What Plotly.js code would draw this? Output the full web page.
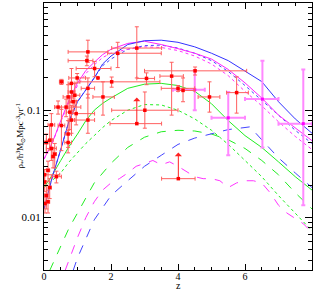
<!DOCTYPE html>
<html><head><meta charset="utf-8">
<script src="https://cdn.plot.ly/plotly-3.0.1.min.js"></script>
<style>html,body{margin:0;padding:0;background:#fff}#c{width:314px;height:291px}</style>
</head><body><div id="c"></div>
<script>
// model curves (z grid and values)
const zGrid = [0,0.25,0.5,0.75,1,1.25,1.5,1.75,2,2.5,3,3.5,4,4.5,5,5.5,6,6.5,7,7.5,8];
const blueSolid   = [0.012,0.024,0.043,0.08,0.12,0.155,0.2,0.27,0.32,0.41,0.445,0.45,0.43,0.39,0.34,0.29,0.23,0.185,0.12,0.083,0.061];
const magSolid    = [0.035,0.05,0.08,0.125,0.18,0.235,0.28,0.33,0.37,0.42,0.44,0.41,0.375,0.34,0.3,0.24,0.18,0.13,0.09,0.068,0.052];
const blueDotted  = [0.012,0.024,0.043,0.08,0.12,0.155,0.2,0.26,0.3,0.37,0.40,0.405,0.38,0.34,0.29,0.23,0.17,0.125,0.09,0.065,0.049];
const magDotted   = [0.035,0.05,0.078,0.12,0.17,0.22,0.265,0.31,0.34,0.37,0.39,0.385,0.36,0.32,0.27,0.21,0.15,0.11,0.078,0.057,0.043];
const greenSolid  = [0.019,0.025,0.034,0.046,0.06,0.08,0.1,0.116,0.13,0.16,0.175,0.178,0.17,0.15,0.115,0.08,0.058,0.045,0.033,0.024,0.018];
const greenDotted = [0.019,0.022,0.026,0.033,0.04,0.049,0.058,0.069,0.08,0.1,0.113,0.112,0.1,0.083,0.065,0.048,0.034,0.024,0.016,0.011,0.0075];

const zGreenDash = [0.17,0.5,0.75,1,1.5,2,2.5,3,3.5,4,4.5,5,5.5,6,6.5,7,7.5,8];
const greenDash  = [0.0032,0.0055,0.008,0.011,0.021,0.032,0.045,0.056,0.063,0.065,0.064,0.06,0.053,0.044,0.034,0.025,0.017,0.012];

const zBlueDash = [0.87,1,1.5,2,2.5,3,3.5,4,4.5,5,5.5,6,6.15,6.5,7,7.5,8];
const blueDash  = [0.0032,0.0042,0.0095,0.016,0.022,0.03,0.038,0.048,0.055,0.06,0.066,0.069,0.07,0.053,0.036,0.026,0.019];

const zMagDash = [0.63,0.8,1,1.25,1.5,1.75,2,2.25,2.5,2.75,3,3.25,3.5,3.75,4,4.25,4.5,4.75,5,5.25,5.5,5.75,6,6.25,6.5,6.75,7,7.25,7.5,7.75,8];
const magDash  = [0.0032,0.0045,0.0065,0.01,0.014,0.018,0.021,0.023,0.026,0.03,0.032,0.034,0.031,0.033,0.03,0.027,0.024,0.023,0.023,0.022,0.019,0.021,0.022,0.022,0.021,0.017,0.013,0.011,0.0098,0.0087,0.0072];

// red data points
const redZ  = [1.31,1.28,1.51,2.02,1.76,2.77,2.2,3.06,4.51,3.81,4.0,4.15,4.94,5.75,3.01,
               0.99,0.52,0.82,1.31,1.61,0.82,0.72,0.92,0.87,0.66,0.42,0.77,0.96,0.82,0.22,0.52,1.31,0.72,0.72,
               0.17,0.07,0.22,0.32,0.27,0.12,0.37,0.02,0.02,0.17,0.07,0.12,0.03];
const redV  = [0.35,0.29,0.245,0.184,0.133,0.38,0.34,0.198,0.233,0.208,0.16,0.153,0.133,0.146,0.1,
               0.2,0.184,0.178,0.16,0.2,0.148,0.133,0.138,0.12,0.107,0.107,0.096,0.093,0.081,0.073,0.072,0.081,0.06,0.05,
               0.0525,0.05,0.044,0.039,0.037,0.0275,0.024,0.025,0.0214,0.019,0.016,0.014,0.0135];
const redZm = [0.59,0.56,0.55,0.95,0.3,0.75,0.3,0.29,1.51,0.35,0.5,0.15,0.34,0.3,0.99,
               0.25,0.06,0.1,0.2,0,0.1,0.15,0.1,0.1,0.34,0.1,0.1,0.15,0.1,0.1,0.1,0.4,0.1,0.1,
               0.1,0.05,0.15,0.05,0.05,0.05,0.15,0.02,0.02,0.05,0.05,0.05,0.03];
const redZp = [0.6,0.18,0.49,1.44,0.34,0.74,1.3,0.24,1.54,0.35,0.5,0.35,0.31,0.35,0.99,
               0.25,0.06,0.1,0.2,0,0.1,0.15,0.15,0.1,0.44,0.1,0.1,0.55,0.1,0.1,0.1,0.2,0.1,0.1,
               0.1,0.05,0.15,0.05,0.05,0.05,0.15,0.45,0.02,0.05,0.05,0.05,0.03];
const redVm = [0.07,0.03,0.04,0.02,0.043,0.18,0.09,0.025,0.02,0.118,0.01,0.033,0.037,0.052,0.032,
               0.02,0.01,0.058,0.03,0,0.03,0.03,0.03,0.02,0.02,0.015,0.03,0.02,0.02,0.02,0.03,0.02,0.015,0.01,
               0.01,0.01,0.01,0.01,0.008,0.006,0.003,0.003,0.004,0.004,0.004,0.003,0.0025];
const redVp = [0.10,0.03,0.04,0.02,0.051,0.22,0.09,0.025,0.02,0.072,0.01,0.047,0.051,0.059,0.048,
               0.02,0.01,0.067,0.04,0,0.03,0.04,0.04,0.03,0.02,0.015,0.04,0.03,0.03,0.02,0.03,0.06,0.02,0.015,
               0.02,0.01,0.01,0.01,0.008,0.006,0.003,0.003,0.004,0.004,0.004,0.004,0.003];

// magenta data points
const magZ  = [4.5,5.5,6.52,7.74];
const magV  = [0.155,0.085,0.127,0.075];
const magZm = [0.65,0.5,0.52,0.74];
const magZp = [0.3,0.5,0.48,0.26];
const magVm = [0.055,0.047,0.082,0.062];
const magVp = [0.081,0.063,0.163,0.165];

// lower limits (arrows)
const limZ  = [2.77,4.01];
const limV  = [0.075,0.023];
const limZm = [0.8,0.5];
const limZp = [0.74,0.5];
const limFactor = 1.75;

const traces = [];
function line(x,y,color,dash){traces.push({x:x,y:y,type:'scatter',mode:'lines',line:{color:color,width:1,dash:dash},hoverinfo:'skip'});}
line(zGrid,greenSolid,'#22ee22','solid');
line(zGrid,greenDotted,'#22ee22','dot');
line(zGreenDash,greenDash,'#22ee22','dash');
line(zGrid,blueDotted,'#4444ff','dot');
line(zGrid,magDotted,'#ff33ff','dot');
line(zBlueDash,blueDash,'#4444ff','dash');
line(zMagDash,magDash,'#ff33ff','dash');
line(zGrid,magSolid,'#ff22ff','solid');
line(zGrid,blueSolid,'#3333ff','solid');

const errRed='rgb(255,95,95)';
traces.push({x:magZ,y:magV,type:'scatter',mode:'markers',marker:{color:'#ff00ff',size:3,symbol:'square'},
  error_x:{type:'data',symmetric:false,array:magZp,arrayminus:magZm,color:'#ff88ff',thickness:2,width:2},
  error_y:{type:'data',symmetric:false,array:magVp,arrayminus:magVm,color:'#ff88ff',thickness:2,width:2}});
traces.push({x:redZ,y:redV,type:'scatter',mode:'markers',marker:{color:'#ff0000',size:3.5,symbol:'square'},
  error_x:{type:'data',symmetric:false,array:redZp,arrayminus:redZm,color:errRed,thickness:1,width:2},
  error_y:{type:'data',symmetric:false,array:redVp,arrayminus:redVm,color:errRed,thickness:1,width:2}});
traces.push({x:limZ,y:limV,type:'scatter',mode:'markers',marker:{color:'#ff0000',size:3.5,symbol:'square'},
  error_x:{type:'data',symmetric:false,array:limZp,arrayminus:limZm,color:errRed,thickness:1,width:2}});

const font={family:'Liberation Serif, Times New Roman, serif',size:11,color:'#000'};
const xfont={family:font.family,size:10,color:'#000'};

const annotations = limZ.map((z,i)=>({x:z,y:Math.log10(limV[i]*limFactor),ax:z,ay:Math.log10(limV[i]),
  axref:'x',ayref:'y',xref:'x',yref:'y',showarrow:true,arrowhead:1,arrowsize:1.2,arrowwidth:1,arrowcolor:'#ff2222',text:''}));
annotations.push({xref:'paper',yref:'paper',x:0.5,y:0,yanchor:'middle',xanchor:'center',yshift:-15.5,showarrow:false,
  text:'z',font:{family:font.family,size:10,color:'#000'}});
annotations.push({xref:'paper',yref:'paper',x:0,y:0.5,xanchor:'center',yanchor:'middle',xshift:-24,textangle:-90,showarrow:false,
  text:'ρ<sub>*</sub>/h<sup>3</sup>M<sub>⊙</sub>Mpc<sup>-3</sup>yr<sup>-1</sup>',font:{family:font.family,size:9,color:'#000'}});

const minorY=[];
[0.001,0.01,0.1].forEach(d=>{for(let k=2;k<=9;k++){const v=d*k; if(v>0.0032) minorY.push(v);}});

const layout={
  width:314,height:291,margin:{l:44,r:2,t:3,b:21},
  paper_bgcolor:'#fff',plot_bgcolor:'#fff',showlegend:false,font:font,
  xaxis:{range:[0,8],tickvals:[0,2,4,6,8],ticktext:['0','2','4','6','8'],ticks:'inside',ticklen:6,tickcolor:'#000',
    mirror:'allticks',showline:true,linecolor:'#000',linewidth:1,showgrid:false,zeroline:false,ticklabelstandoff:-3,
    minor:{tick0:0,dtick:0.5,ticks:'inside',ticklen:3,tickcolor:'#000',showgrid:false},tickfont:xfont},
  yaxis:{type:'log',range:[-2.49,0],tickvals:[0.01,0.1,1],ticktext:['0.01','0.1','1'],ticks:'inside',ticklen:7,tickcolor:'#000',
    mirror:'allticks',showline:true,linecolor:'#000',linewidth:1,showgrid:false,zeroline:false,
    minor:{tickvals:minorY,ticks:'inside',ticklen:4,tickcolor:'#000',showgrid:false},tickfont:font},
  annotations:annotations
};
Plotly.newPlot('c',traces,layout,{staticPlot:true,displayModeBar:false});
</script></body></html>
